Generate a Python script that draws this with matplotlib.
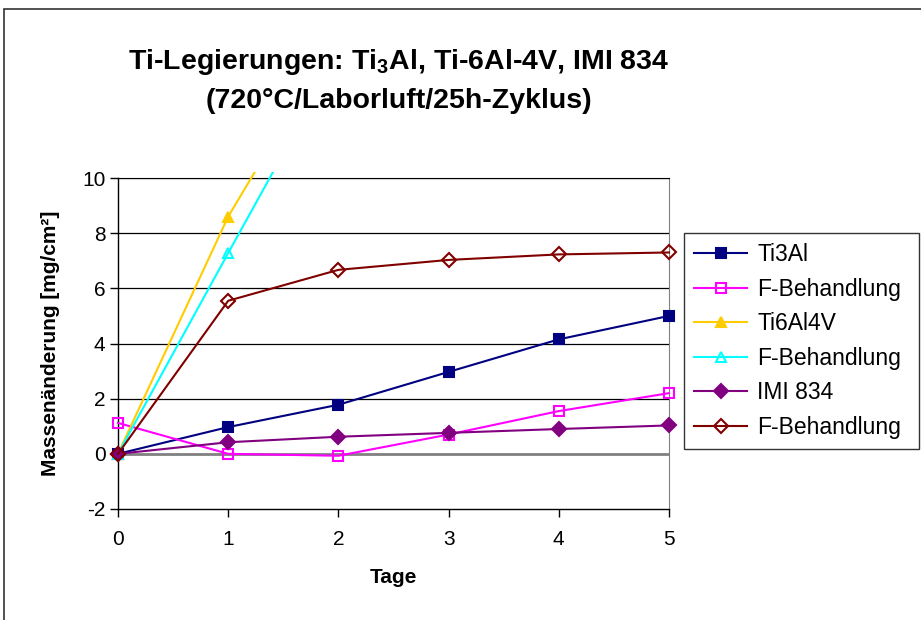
import matplotlib.pyplot as plt
from matplotlib.patches import Rectangle
from matplotlib.transforms import Bbox, TransformedBbox

plt.rcParams['font.family'] = ['Liberation Sans', 'DejaVu Sans']
plt.rcParams['mathtext.fontset'] = 'custom'
plt.rcParams['mathtext.rm'] = 'Liberation Sans:bold'
plt.rcParams['mathtext.default'] = 'rm'
plt.rcParams['axes.unicode_minus'] = False

# data
tage = [0, 1, 2, 3, 4, 5]
tage_ti64 = [0, 1, 2]
ti3al = [0.0, 0.97, 1.78, 2.97, 4.15, 5.0]
ti3al_f = [1.12, 0.0, -0.07, 0.7, 1.55, 2.2]
ti6al4v = [0.0, 8.6, 15.3]
ti6al4v_f = [0.0, 7.28, 14.5]
imi834 = [0.0, 0.42, 0.62, 0.76, 0.9, 1.03]
imi834_f = [0.0, 5.55, 6.67, 7.03, 7.23, 7.3]

labels = ['Ti3Al', 'F-Behandlung', 'Ti6Al4V', 'F-Behandlung', 'IMI 834', 'F-Behandlung']

fig = plt.figure(figsize=(9.21, 6.2), dpi=100)
ax = fig.add_axes([118 / 921, 1 - 509 / 620, (669 - 118) / 921, (509 - 178) / 620])

# outer chart frame (cut off at right and bottom)
fig.patches.append(Rectangle((4 / 921, -0.05), 1.1, 1 - 9 / 620 + 0.05,
                             transform=fig.transFigure, fill=False,
                             edgecolor='#333333', lw=1.2))

series = [
    (tage, ti3al, '#000080', 's', '#000080'),
    (tage, ti3al_f, '#FF00FF', 's', 'none'),
    (tage_ti64, ti6al4v, '#FFCC00', '^', '#FFCC00'),
    (tage_ti64, ti6al4v_f, '#00FFFF', '^', 'none'),
    (tage, imi834, '#800080', 'D', '#800080'),
    (tage, imi834_f, '#800000', 'D', 'none'),
]

clip = TransformedBbox(Bbox([[-0.04, -0.05], [1.04, 1.018]]), ax.transAxes)
handles = []
for (x, y, c, m, fc), lab in zip(series, labels):
    ms = 7 if m != 'D' else 7.5
    ln, = ax.plot(x, y, color=c, marker=m, markerfacecolor=fc,
                  markeredgecolor=c, markeredgewidth=1.5, ms=ms, lw=1.5,
                  label=lab, zorder=3)
    ln.set_clip_box(clip)
    handles.append(ln)

ax.set_xlim(0, 5)
ax.set_ylim(-2, 10)
ax.set_xticks(range(0, 6))
ax.set_yticks(range(-2, 11, 2))
for v in range(2, 11, 2):
    ax.axhline(v, color='black', lw=0.9, zorder=1)
ax.axhline(0, color='#808080', lw=2, zorder=1)

for s in ['left', 'bottom']:
    ax.spines[s].set_color('black')
    ax.spines[s].set_linewidth(1)
ax.spines['right'].set_color('#808080')
ax.spines['top'].set_color('black')
ax.tick_params(axis='both', direction='out', length=6, width=1,
               labelsize=15, color='black')
ax.tick_params(axis='y', pad=3)
ax.tick_params(axis='x', pad=9)

ax.set_xlabel('Tage', fontsize=15, fontweight='bold', labelpad=14)
ax.set_ylabel('Massenänderung [mg/cm²]', fontsize=15, fontweight='bold', labelpad=16)

fig.text(399 / 921, 1 - 62 / 620, 'Ti-Legierungen: Ti$_3$Al, Ti-6Al-4V, IMI 834',
         ha='center', va='center', fontsize=20.5, fontweight='bold')
fig.text(399 / 921, 1 - 101 / 620, '(720°C/Laborluft/25h-Zyklus)',
         ha='center', va='center', fontsize=20.5, fontweight='bold')

leg = fig.legend(handles=handles, loc='upper left', mode='expand',
                 bbox_to_anchor=(684 / 921, 1 - 449 / 620, (919 - 684) / 921, (449 - 233) / 620),
                 fontsize=16.5, frameon=True, fancybox=False, edgecolor='black',
                 handlelength=2.3, handletextpad=0.45, labelspacing=0.5,
                 borderpad=0.45, borderaxespad=0)
leg.get_frame().set_linewidth(1)

fig.savefig('out.png', dpi=100)
